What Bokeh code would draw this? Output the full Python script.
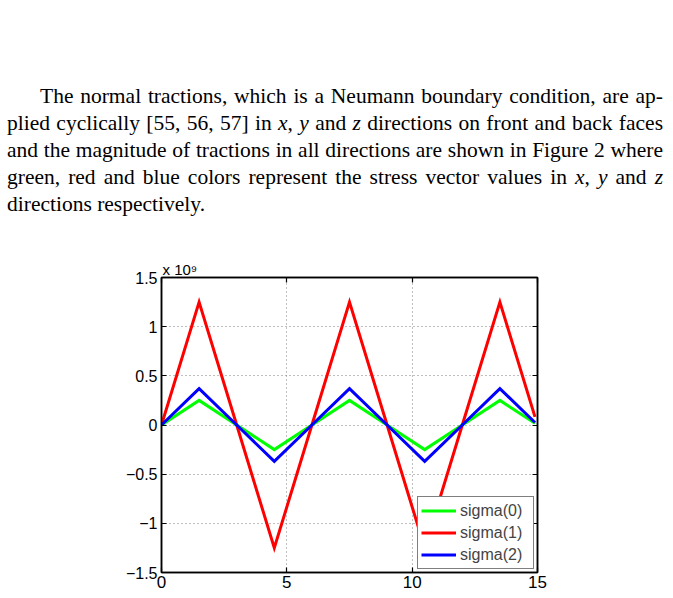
from bokeh.plotting import figure
from bokeh.layouts import column
from bokeh.models import (Div, FixedTicker, LinearAxis, Title, CustomJSTickFormatter,
                          Range1d, Legend, Grid, BasicTickFormatter)
from bokeh.embed import file_html
from bokeh.resources import INLINE

# ---- data ----
time = [0, 1.5, 3, 4.5, 6, 7.5, 9, 10.5, 12, 13.5, 14.9]
sigma0 = [0, 0.25e9, 0, -0.25e9, 0, 0.25e9, 0, -0.25e9, 0, 0.25e9, 0.017e9]
sigma1 = [0, 1.25e9, 0, -1.25e9, 0, 1.25e9, 0, -1.25e9, 0, 1.25e9, 0.083e9]
sigma2 = [0, 0.37e9, 0, -0.37e9, 0, 0.37e9, 0, -0.37e9, 0, 0.37e9, 0.025e9]
series_names = ["sigma(0)", "sigma(1)", "sigma(2)"]
series_colors = ["#00ff00", "#ff0000", "#0000ff"]
x_ticks = [0, 5, 10, 15]
y_ticks = [-1.5e9, -1.0e9, -0.5e9, 0, 0.5e9, 1.0e9, 1.5e9]
scale_label = "x 10\u2079"

text_lines = [
    "The normal tractions, which is a Neumann boundary condition, are ap-",
    "plied cyclically [55, 56, 57] in <i>x</i>, <i>y</i> and <i>z</i> directions on front and back faces",
    "and the magnitude of tractions in all directions are shown in Figure 2 where",
    "green, red and blue colors represent the stress vector values in <i>x</i>, <i>y</i> and <i>z</i>",
    "directions respectively.",
]

# ---- paragraph ----
parts = []
for i, ln in enumerate(text_lines):
    st = "white-space:nowrap;text-align:justify;text-align-last:justify;"
    if i == 0:
        st += "text-indent:33px;"
    if i == len(text_lines) - 1:
        st += "text-align-last:left;"
    parts.append('<div style="%s">%s</div>' % (st, ln))
html = ('<div style="font-family:\'Liberation Serif\',serif;font-size:21.5px;line-height:27px;'
        'color:#000;padding-top:83px;margin-left:7px;width:656px;">' + "".join(parts) + "</div>")
div = Div(text=html, width=673, height=250, margin=(0, 0, 0, 0))

# ---- chart ----
FONT = "Liberation Sans"
p = figure(width=673, height=348, output_backend="svg", toolbar_location=None,
           title=None, x_axis_type=None, y_axis_type=None,
           min_border_left=161, min_border_right=136, min_border_top=27, min_border_bottom=26,
           x_range=Range1d(0, 15), y_range=Range1d(-1.5e9, 1.5e9))
p.background_fill_color = "white"
p.border_fill_color = "white"
p.outline_line_color = "black"
p.outline_line_width = 1.5

yfmt = CustomJSTickFormatter(code="""
const v = Math.round(tick/1e8)/10;
return v.toString().replace('-', '\u2212');
""")
blank = CustomJSTickFormatter(code="return '';")

def mk_axis(ticks, fmt, size):
    ax = LinearAxis(ticker=FixedTicker(ticks=ticks), formatter=fmt)
    ax.major_tick_in = 5
    ax.major_tick_out = 0
    ax.minor_tick_line_color = None
    ax.axis_line_width = 1.5
    ax.major_tick_line_width = 1.2
    ax.major_label_text_font = FONT
    ax.major_label_text_font_size = size
    ax.major_label_text_color = "black"
    return ax

bottom = mk_axis(x_ticks, BasicTickFormatter(), "17px")
bottom.major_label_standoff = 3
left = mk_axis(y_ticks, yfmt, "16px")
left.major_label_standoff = 4
top = mk_axis(x_ticks, blank, "10px")
top.major_label_standoff = 0
right = mk_axis(y_ticks, blank, "10px")
right.major_label_standoff = 0
p.add_layout(bottom, "below")
p.add_layout(left, "left")
p.add_layout(top, "above")
p.add_layout(right, "right")

for dim, ticks in ((0, x_ticks), (1, y_ticks)):
    g = Grid(dimension=dim, ticker=FixedTicker(ticks=ticks))
    g.grid_line_color = "#808080"
    g.grid_line_dash = "1 3"
    g.grid_line_width = 1
    p.add_layout(g)

renderers = []
for ys, name, col in zip([sigma0, sigma1, sigma2], series_names, series_colors):
    r = p.line(time, ys, line_color=col, line_width=3, line_join="miter")
    renderers.append((name, [r]))

legend = Legend(items=renderers, location="bottom_right")
legend.border_line_color = "black"
legend.border_line_width = 1.5
legend.background_fill_color = "white"
legend.background_fill_alpha = 1
legend.label_text_font = FONT
legend.label_text_font_size = "16px"
legend.glyph_width = 35
legend.glyph_height = 21
legend.label_height = 21
legend.label_width = 70
legend.spacing = 1
legend.padding = 3
legend.margin = 3
legend.label_standoff = 4
p.add_layout(legend, "center")

t = Title(text=scale_label, align="left", text_font=FONT, text_font_size="15px",
          text_font_style="normal", text_color="black", standoff=0, offset=1)
p.add_layout(t, "above")

layout = column(div, p, spacing=0, margin=(0, 0, 0, 0))
open("out.html", "w").write(file_html(layout, INLINE))
